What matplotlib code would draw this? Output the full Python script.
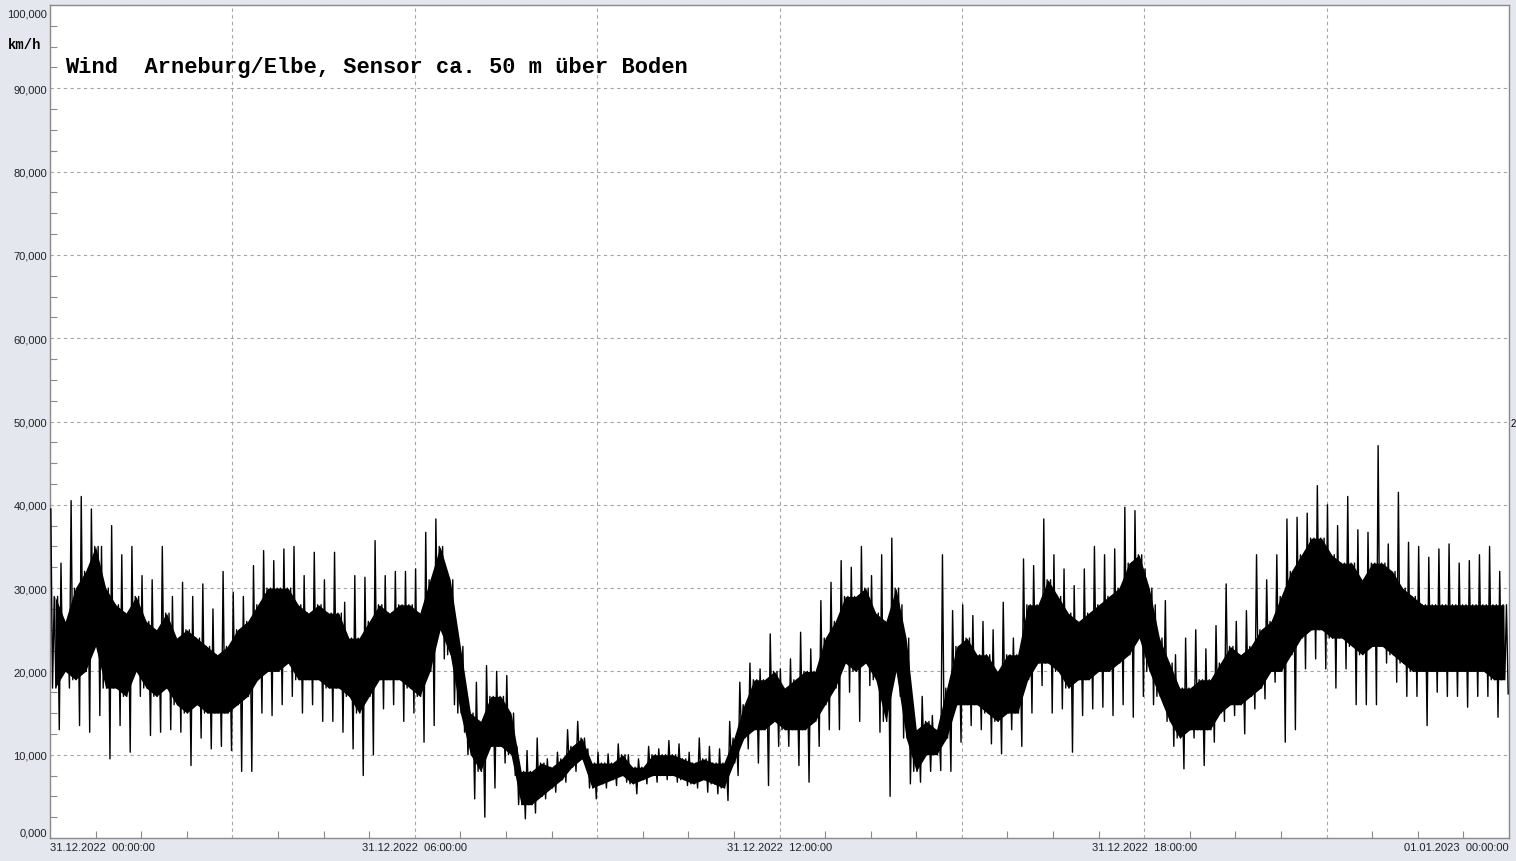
import numpy as np
import matplotlib.pyplot as plt
from matplotlib.ticker import MultipleLocator, FuncFormatter
from matplotlib.transforms import ScaledTranslation

plt.rcParams['path.simplify'] = False

# Wind speed in km/h per 10-minute slot
# (31.12.2022 00:00 -> 01.01.2023 00:00, 144 slots)
spike_hi = [
    39.5, 33, 40.5, 41, 39.5, 35, 37.5, 34, 35, 31.5, 31, 35,
    29, 30.7, 29, 30.5, 27.5, 32, 29.5, 29, 32.7, 34.5, 33.3, 34.7,
    35, 31.5, 34.3, 31, 34.3, 28.3, 31.5, 31.3, 35.7, 31.5, 32, 32,
    32.3, 36.7, 38.3, 32.3, 24, 17, 18.7, 20.7, 20, 19.5, 11, 10.5,
    12, 9.5, 10.3, 13, 14, 10.7, 10.3, 10.1, 11.3, 10, 9.5, 11,
    10.7, 11.7, 11.3, 10.3, 12, 11, 10.7, 14, 18.7, 21, 20.3, 24.5,
    20.3, 21.5, 24.7, 22.7, 28.5, 30.7, 33.3, 32.5, 35, 31.5, 34, 36,
    28, 15.5, 17, 14.7, 34, 27.3, 28, 26.7, 26, 25, 28.3, 24,
    33.5, 32.7, 38.3, 34, 32.3, 30.3, 32.3, 35, 34, 34.7, 39.7, 39.3,
    32.3, 28, 28.5, 22, 24, 25, 22.7, 25.5, 30.5, 26, 27.3, 34,
    31, 34, 38.3, 38.5, 39, 42.3, 40, 37.5, 41, 37, 36.7, 47.1,
    35.3, 41.5, 35.5, 35, 33.7, 34.7, 35.3, 33, 33.3, 34, 35, 32,
]
spike_lo = [
    13, 18, 13.5, 12.7, 14.7, 9.5, 13.5, 10.3, 17, 12.3, 12.7, 13,
    12.7, 8.7, 12, 10.7, 11, 10.5, 8, 8, 15, 14.7, 16, 17,
    15, 16, 14, 14, 12.7, 10.7, 7.5, 10, 15.5, 16, 14, 15,
    11.5, 13.5, 21.5, 16, 12.7, 4.7, 2.5, 6, 9, 7.5, 2.3, 3,
    4.7, 5.5, 6.7, 8, 9, 4.7, 6, 6.3, 6.7, 5.3, 6.5, 6.7,
    7, 6.7, 6.3, 6, 5.5, 5.3, 4.5, 7.5, 10.7, 9, 6.3, 11,
    11, 8.7, 6.7, 11, 13, 13, 17.5, 14, 18.3, 12.7, 5, 17,
    6.5, 6.7, 8, 8.1, 8, 11.5, 13.5, 13, 11.3, 10.1, 13, 11,
    15, 18.3, 15, 15.5, 10.3, 14.7, 15.5, 15.7, 14.7, 16, 14.5, 17,
    16, 16, 11, 8.3, 12, 8.7, 11.5, 14, 14.7, 12.5, 15.5, 16.7,
    18.7, 11.5, 13, 20.3, 21.5, 20.3, 18, 20.3, 16, 16, 16, 21,
    18.7, 17, 17, 13.5, 17.5, 17, 17, 15.7, 17, 17, 14.5, 17.3,
]
core_hi = [
    29, 26, 30, 32, 35, 30, 28, 27, 29, 26, 25, 27,
    24, 25, 24, 23, 22, 23, 25, 26, 28, 30, 30, 30,
    28, 27, 28, 27, 27, 24, 24, 26, 28, 27, 28, 28,
    27, 31, 35, 31, 23, 15, 14, 17, 17, 15, 8, 8,
    9, 8.5, 9.5, 11, 12, 9, 9, 9, 10, 8.5, 8.5, 10,
    10, 10, 9.5, 9, 9.5, 9, 9, 12, 16, 19, 19, 20,
    18, 19, 20, 20, 24, 26, 29, 29, 30, 27, 26, 30,
    24, 13, 14, 13, 18, 23, 24, 22, 22, 20, 22, 22,
    28, 28, 31, 29, 27, 26, 27, 28, 29, 30, 33, 34,
    30, 24, 21, 18, 18, 19, 19, 21, 23, 22, 23, 25,
    26, 29, 32, 34, 36, 36, 34, 33, 33, 31, 33, 33,
    32, 30, 29, 28, 28, 28, 28, 28, 28, 28, 28, 28,
]
core_lo = [
    18, 20, 19, 20, 23, 18, 18, 17, 20, 18, 17, 18,
    16, 15, 16, 15, 15, 15, 16, 17, 19, 20, 20, 21,
    19, 19, 19, 18, 18, 17, 15, 17, 19, 19, 19, 18,
    17, 20, 25, 22, 15, 10, 8, 11, 11, 10, 4, 4,
    5, 6, 7, 8.5, 9.5, 6, 6.5, 7, 7.5, 6.5, 7, 7.5,
    7.5, 7.5, 7, 6.5, 7, 6.5, 6, 9, 12, 13, 13, 14,
    13, 13, 13, 14, 16, 18, 21, 20, 21, 19, 14, 20,
    12, 8, 10, 10, 12, 16, 16, 16, 15, 14, 15, 15,
    19, 21, 21, 20, 18, 19, 19, 20, 20, 21, 22, 24,
    20, 17, 14, 12, 13, 13, 13, 15, 16, 16, 17, 18,
    20, 20, 22, 24, 25, 25, 24, 24, 23, 22, 23, 23,
    22, 21, 20, 20, 20, 20, 20, 20, 20, 20, 19, 19,
]

x_labels = ["31.12.2022  00:00:00", "", "31.12.2022  06:00:00", "",
            "31.12.2022  12:00:00", "", "31.12.2022  18:00:00", "",
            "01.01.2023  00:00:00"]
title = "Wind  Arneburg/Elbe, Sensor ca. 50 m über Boden"

W, H = 1516, 862
fig = plt.figure(figsize=(W / 100, H / 100), dpi=100, facecolor='#e4e7ee')
ax = fig.add_axes([50 / W, 23 / H, 1459 / W, 833 / H])
ax.set_facecolor('white')

# one slot = 10 min
slot = np.arange(len(spike_hi)) * 10 / 60
step = 10 / 6 / 60

# dense part of the signal
ax.fill_between(slot + 5 / 60, core_lo, core_hi, color='black', lw=0, zorder=3)

# zigzag through spikes and core, six points per slot
px = np.column_stack([slot + (k + 0.5) * step for k in range(6)]).ravel()
py = np.column_stack([spike_hi, core_lo, core_hi, core_lo, core_hi, spike_lo]).ravel()
ax.plot(px, py, color='black', lw=1.0, zorder=4)

ax.set_xlim(0, 24)
ax.set_ylim(0, 100)

ax.set_xticks(np.arange(0, 25, 3))
ax.set_xticklabels(x_labels)
ax.xaxis.set_minor_locator(MultipleLocator(0.75))
ax.set_yticks(np.arange(0, 101, 10))
ax.yaxis.set_minor_locator(MultipleLocator(2.5))
ax.yaxis.set_major_formatter(FuncFormatter(lambda v, p: f"{v:.3f}".replace('.', ',')))

ax.tick_params(which='both', direction='in', colors='#8a8a8a',
               labelcolor='#222222', labelsize=8)
ax.tick_params(which='major', length=0)
ax.tick_params(which='minor', length=5, width=0.8)
ax.tick_params(axis='y', pad=2)
ax.tick_params(axis='x', pad=3)
for lab in ax.get_xticklabels() + ax.get_yticklabels():
    lab.set_fontfamily('Liberation Sans')
xl = ax.get_xticklabels()
xl[0].set_ha('left')
xl[-1].set_ha('right')
yticks = ax.yaxis.get_major_ticks()
yticks[0].label1.set_transform(
    yticks[0].label1.get_transform() + ScaledTranslation(0, 6 / 100, fig.dpi_scale_trans))
yticks[-1].label1.set_transform(
    yticks[-1].label1.get_transform() + ScaledTranslation(0, -7 / 100, fig.dpi_scale_trans))

ax.grid(which='major', color='#a5a5a5', linestyle=(0, (3, 3)), linewidth=0.8)
ax.set_axisbelow(True)
for s in ax.spines.values():
    s.set_color('#8a8a8a')
    s.set_linewidth(1)

fig.text(8 / W, 1 - 45 / H, "km/h", family='Liberation Mono', weight='bold',
         fontsize=10, va='center', ha='left')
fig.text(65 / W, 1 - 67 / H, title, family='Liberation Mono', weight='bold',
         fontsize=15.8, va='center', ha='left')
fig.text(1511 / W, 1 - 424 / H, "2", family='Liberation Sans', fontsize=7,
         va='center', ha='left')

fig.savefig('out.png', dpi=100, facecolor=fig.get_facecolor())
